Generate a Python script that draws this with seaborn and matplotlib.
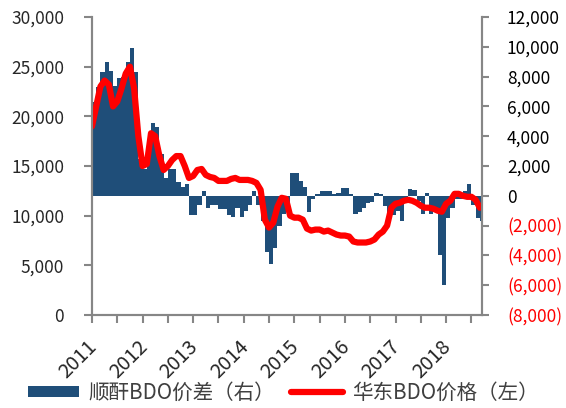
import numpy as np
import pandas as pd
import seaborn as sns
import matplotlib.pyplot as plt
from matplotlib.patches import Patch
from matplotlib.lines import Line2D

# monthly samples, Jan 2011 .. Sep 2018
months = pd.date_range('2011-01-01', periods=93, freq='MS')

# 华东BDO价格 (left axis, yuan/t)
price = [19000, 21000, 23000, 23600, 23200, 21000, 21500, 22800, 24300, 25000,
         22800, 18000, 15000, 15200, 18300, 18000, 16000, 14600, 15000, 15600,
         16000, 16000, 15000, 13800, 14000, 14600, 14700, 14100, 13900, 13800,
         13500, 13500, 13500, 13700, 13800, 13600, 13600, 13600, 13500, 13300,
         12600, 9600, 8800, 9300, 10900, 11800, 11700, 10000, 9800, 9800,
         9600, 8700, 8500, 8600, 8600, 8400, 8500, 8300, 8100, 8000,
         8000, 7900, 7400, 7300, 7300, 7300, 7400, 7600, 8100, 8400,
         9000, 10800, 11200, 11300, 11500, 11600, 11500, 11300, 11000, 10800,
         10800, 10700, 10500, 10400, 11200, 11500, 12200, 12200, 12000, 11900,
         11900, 11600, 10800]

# 顺酐BDO价差 (right axis)
spread = [6300, 7300, 8300, 9000, 8400, 7400, 7900, 8000, 9000, 9900,
          8300, 2500, 1800, 3300, 4900, 4600, 2800, 1200, 1800, 1800,
          900, 600, 800, -1300, -1300, -600, 300, -800, -600, -600,
          -900, -900, -1300, -1400, -800, -1400, -1000, -600, 300, -600,
          -1700, -3800, -4600, -3500, -2000, -1200, -500, 1500, 1500, 1000,
          600, -1100, -200, 150, 300, 300, 300, 100, 200, 550,
          500, 100, -1200, -1100, -800, -500, -400, 200, 100, -700,
          -1700, -1300, -1000, -1700, -500, 450, 400, -350, -1200, 200,
          -1200, -1000, -4000, -6000, -1500, -800, -200, -200, 300, 800,
          -600, -1500, -1700]

left_ticks = [0, 5000, 10000, 15000, 20000, 25000, 30000]
right_ticks = [-8000, -6000, -4000, -2000, 0, 2000, 4000, 6000, 8000, 10000, 12000]
year_labels = ['2011', '2012', '2013', '2014', '2015', '2016', '2017', '2018']

label_bar = '顺酐BDO价差（右）'
label_line = '华东BDO价格（左）'

sns.set_style('white')
plt.rcParams['font.family'] = ['Noto Sans CJK SC', 'DejaVu Sans']

grey = '#868686'
blue = '#1f4e79'
fs = 12.5

idx = np.arange(len(months))
df = pd.DataFrame({'m': idx, 'bar_x': idx + 0.5, 'price': price, 'spread': spread})

fig = plt.figure(figsize=(5.66, 4.08), dpi=100)
ax = fig.add_axes([0.1625, 0.2279, 0.689, 0.7304])
ax2 = ax.twinx()

sns.barplot(data=df, x='bar_x', y='spread', ax=ax2, native_scale=True, width=1.0,
            color=blue, saturation=1, errorbar=None, linewidth=0)
sns.lineplot(data=df, x='m', y='price', ax=ax, color='red', lw=4.5,
             solid_joinstyle='round', solid_capstyle='round')

ax.set_zorder(ax2.get_zorder() + 1)
ax.patch.set_visible(False)

ax.set_ylim(0, 30000)
ax2.set_ylim(-8000, 12000)

ax.set_yticks(left_ticks, [f'{v:,}' for v in left_ticks])
ax2.set_yticks(right_ticks, [f'({abs(v):,})' if v < 0 else f'{v:,}' for v in right_ticks])
for lab, v in zip(ax2.get_yticklabels(), right_ticks):
    lab.set_color('red' if v < 0 else 'black')

for a in (ax, ax2):
    a.set_xlabel('')
    a.set_ylabel('')
    for s in a.spines.values():
        s.set_color(grey)
        s.set_linewidth(1.5)
    a.spines['top'].set_visible(False)

xt = list(range(0, 91, 6))
xl = [year_labels[i // 12] if i % 12 == 0 else '' for i in xt]
ax.set_xticks(xt, xl, rotation=45, ha='right', va='center_baseline', rotation_mode='anchor')
ax.set_xlim(0, 92.5)

ax.tick_params(axis='y', direction='out', length=6, width=1.5, color=grey, pad=14, labelsize=fs, left=True)
ax.tick_params(axis='x', direction='out', length=6, width=1.5, color=grey, pad=13, labelsize=14.5, bottom=True)
ax2.tick_params(axis='y', direction='out', length=5, width=1.5, color=grey, pad=13, labelsize=fs, right=True)

handles = [Patch(facecolor=blue, edgecolor='none'),
           Line2D([], [], color='red', lw=4.5, solid_capstyle='round')]
fig.legend(handles, [label_bar, label_line], loc='center', bbox_to_anchor=(0.5, 0.037),
           ncol=2, frameon=False, fontsize=14.8, labelcolor='#404040',
           handlelength=2.5, handleheight=0.5, handletextpad=0.45, columnspacing=0.8)

fig.savefig('out.png', dpi=100)
